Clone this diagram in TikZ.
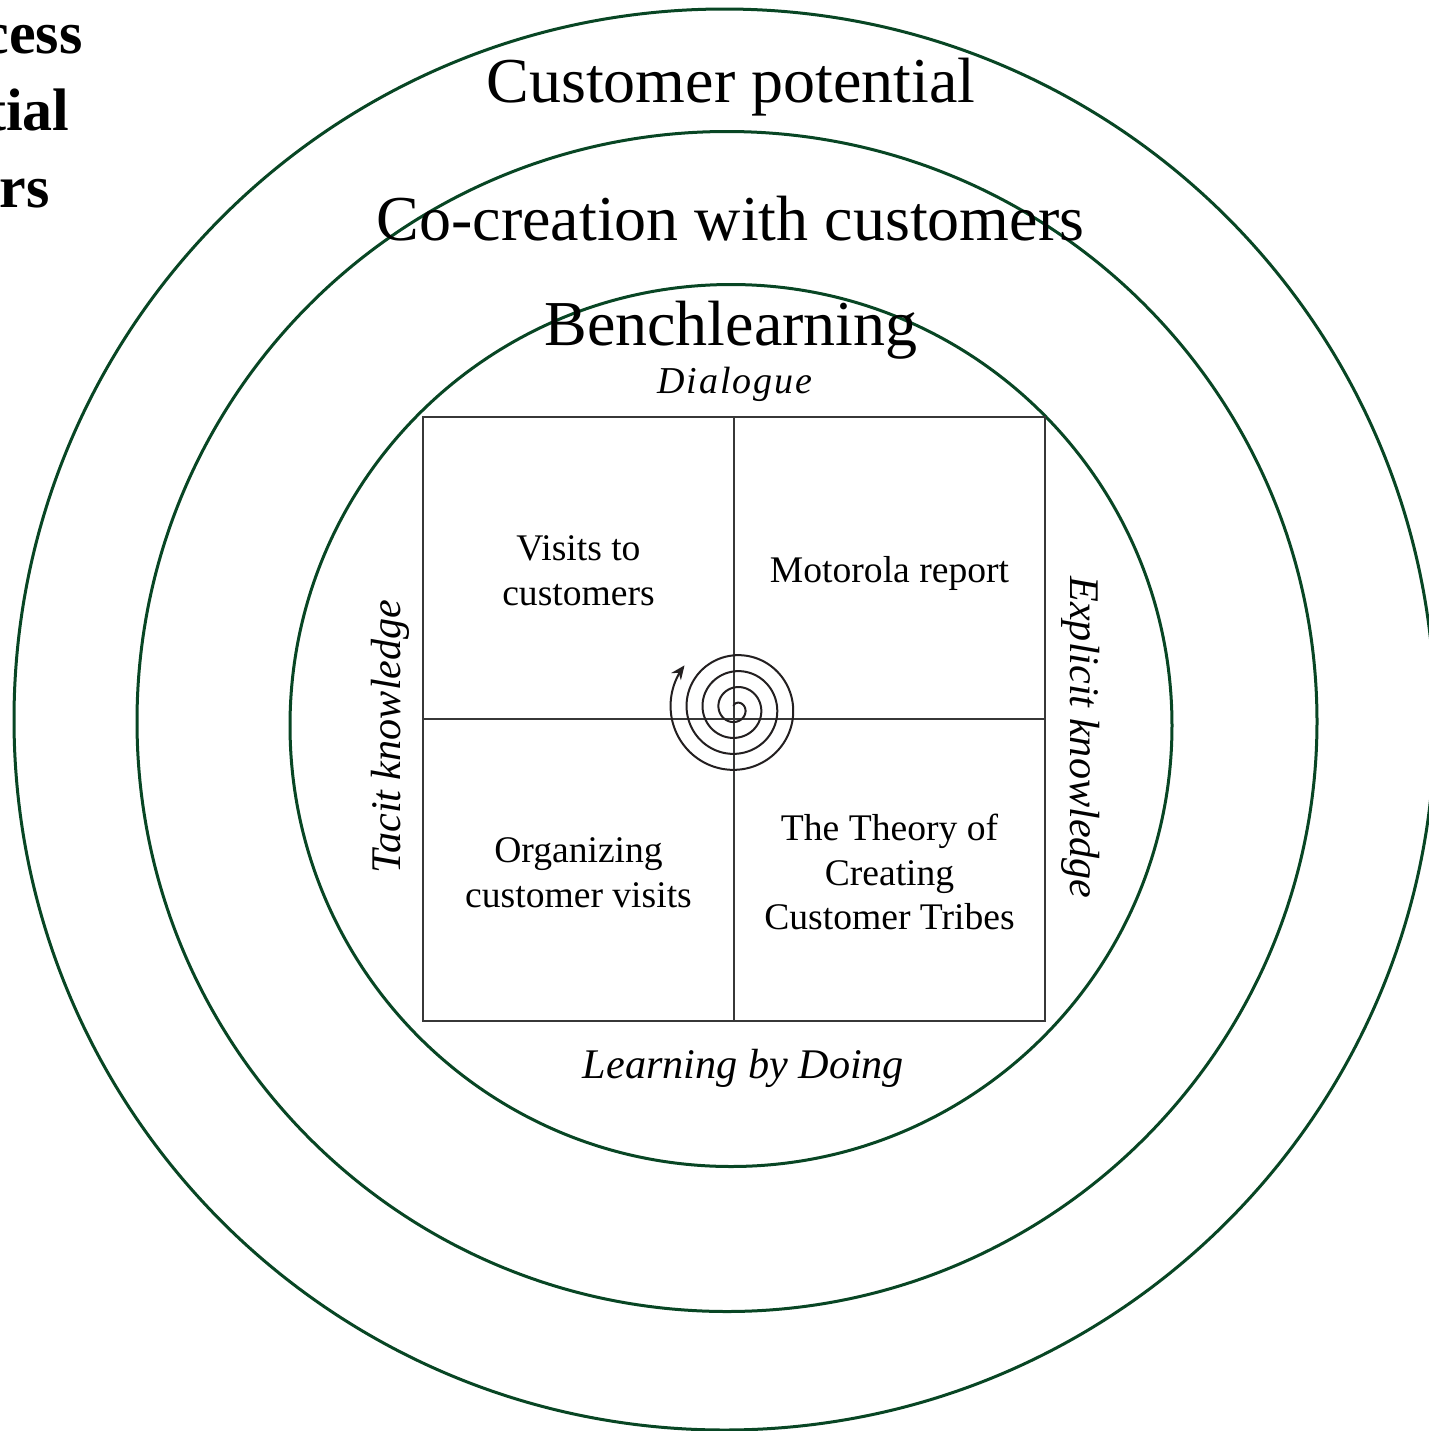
\documentclass[tikz,border=0pt]{standalone}
\usepackage{fontspec}
\setmainfont{Liberation Serif}
\newfontfamily\dlgfont{Liberation Serif}[LetterSpace=5]
\usetikzlibrary{arrows.meta}
\definecolor{ringgreen}{RGB}{8,70,36}
\definecolor{gridgray}{RGB}{55,55,55}
\definecolor{spiralink}{RGB}{35,31,32}
\begin{document}
\begin{tikzpicture}[x=0.5pt,y=-0.5pt,
  ring/.style={draw=ringgreen, line width=1.5pt},
  quadbox/.style={draw=gridgray, line width=0.6pt, minimum width=155.5pt, minimum height=151pt,
    inner sep=0pt, outer sep=0pt},
  quadtxt/.style={align=center, inner sep=0pt, font=\fontsize{18.8}{22.35}\selectfont},
  bigtxt/.style={font=\fontsize{32}{38}\selectfont, inner sep=0pt, anchor=base},
  axislabel/.style={font=\fontsize{21.1}{25}\selectfont\itshape, inner sep=0pt, anchor=base},
  dlglabel/.style={font=\fontsize{19}{23}\selectfont\dlgfont\itshape, inner sep=0pt, anchor=base},
  sidetxt/.style={font=\fontsize{30}{36}\selectfont\bfseries, inner sep=0pt, anchor=base east},
  spiralline/.style={draw=spiralink, line width=1pt, -{Stealth[length=7pt,width=6pt]}},
]
\useasboundingbox (0,0) rectangle (1429,1431);
\fill[white] (0,0) rectangle (1429,1431);

% rings
\draw[ring] (724.5,719.5) circle[radius=355.25pt];
\draw[ring] (727,721.5) circle[radius=295pt];
\draw[ring] (731,725.5) circle[radius=220.5pt];

% quadrants
\node[quadbox] (q1) at (578.5,568) {};
\node[quadbox] (q2) at (889.5,568) {};
\node[quadbox] (q3) at (578.5,870) {};
\node[quadbox] (q4) at (889.5,870) {};

\node[quadtxt, yshift=-1.5pt] (t1) at (q1.center) {Visits to\\customers};
\node[quadtxt, anchor=base] (t2) at (889.5,582) {Motorola report};
\node[quadtxt, yshift=-1.5pt] (t3) at (q3.center) {Organizing\\customer visits};
\node[quadtxt, yshift=-1pt] (t4) at (q4.center) {The Theory of\\Creating\\Customer Tribes};

% spiral
\coordinate (sc) at (735.9,708.5);
\draw[spiralline] plot[domain=225:1660, samples=500, smooth, variable=\t]
  ({735.9+(5.3+(\t-270)/22.5)*cos(\t)}, {708.5+(5.3+(\t-270)/22.5)*sin(\t)});

% ring titles
\node[bigtxt] (cp) at (731,102) {Customer potential};
\node[bigtxt] (cc) at (730.5,240.7) {Co-creation with customers};
\node[bigtxt] (bl) at (731,345) {Benchlearning};

% axis labels
\node[dlglabel] (dlg) at (735,393) {Dialogue};
\node[axislabel] (lbd) at (743.5,1078.3) {Learning by Doing};
\node[axislabel, rotate=90] (tk) at (400,736.5) {Tacit knowledge};
\node[axislabel, rotate=-90] (ek) at (1070,737.5) {Explicit knowledge};

% clipped side text
\node[sidetxt] (s1) at (83,53) {cess};
\node[sidetxt] (s2) at (70,130) {tial};
\node[sidetxt] (s3) at (50,207) {rs};
\end{tikzpicture}
\end{document}
